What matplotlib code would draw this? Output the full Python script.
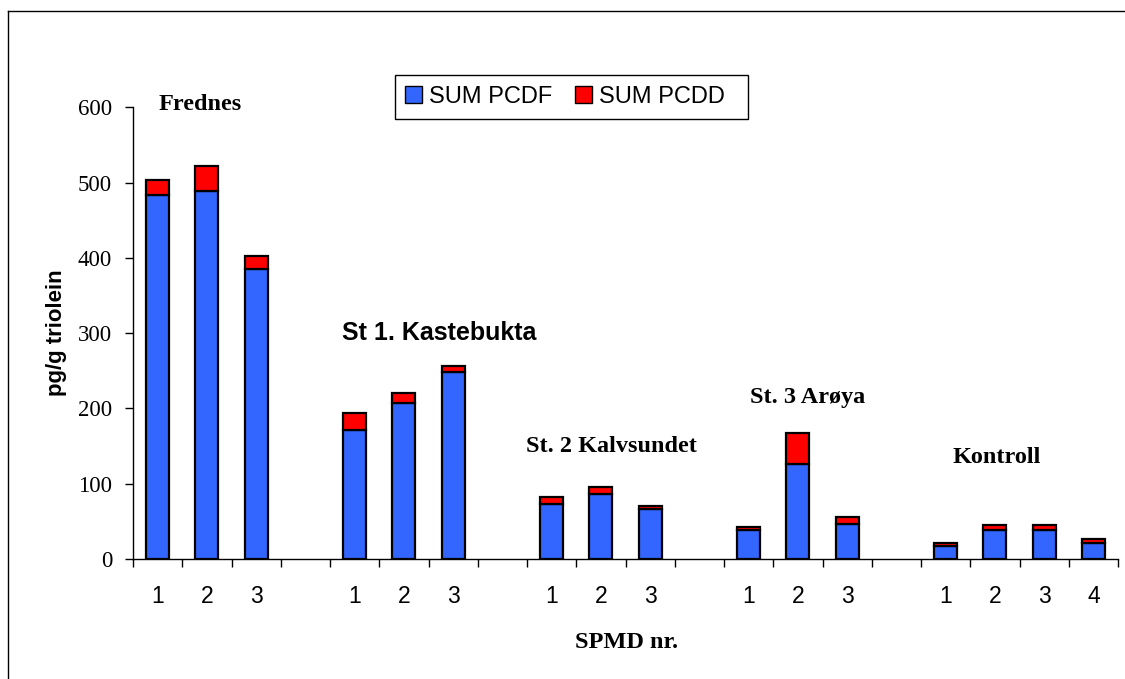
import matplotlib
matplotlib.use("Agg")
import matplotlib.pyplot as plt
from matplotlib.patches import Rectangle, Patch
from matplotlib.lines import Line2D
import numpy as np

# stations and SPMD numbers
stations = ["Frednes", "St 1. Kastebukta", "St. 2 Kalvsundet", "St. 3 Arøya", "Kontroll"]
spmd_labels = [["1", "2", "3"], ["1", "2", "3"], ["1", "2", "3"], ["1", "2", "3"], ["1", "2", "3", "4"]]

# pg/g triolein per SPMD
sum_pcdf = [[484, 489, 385], [172, 207, 249], [73, 87, 66], [38, 126, 47], [17, 39, 39, 21]]
sum_pcdd = [[20, 33, 17], [22, 13, 8], [10, 9, 5], [4, 42, 9], [4, 6, 6, 6]]

BLUE = "#3366FF"
RED = "#FF0000"
SERIF = "Liberation Serif"
SANS = "Liberation Sans"

W, H = 1125, 679
fig = plt.figure(figsize=(W / 100, H / 100), dpi=100)
ax = fig.add_axes([133 / W, 1 - 559 / H, (1118 - 133) / W, (559 - 107.3) / H])

# one empty slot between stations
xs, pcdf, pcdd, labels = [], [], [], []
slot = 0
for g in range(len(stations)):
    for lab, a, b in zip(spmd_labels[g], sum_pcdf[g], sum_pcdd[g]):
        xs.append(slot + 0.5)
        pcdf.append(a)
        pcdd.append(b)
        labels.append(lab)
        slot += 1
    if g < len(stations) - 1:
        slot += 1
n_slots = slot

xs = np.array(xs)
pcdf = np.array(pcdf)
pcdd = np.array(pcdd)

ax.bar(xs, pcdf, width=0.47, color=BLUE, edgecolor="black", linewidth=1.6)
ax.bar(xs, pcdd, bottom=pcdf, width=0.47, color=RED, edgecolor="black", linewidth=1.6)

ax.set_xlim(0, n_slots)
ax.set_ylim(0, 600)
ax.set_yticks(range(0, 601, 100))
ax.tick_params(axis="y", direction="out", length=6, width=1, pad=9, labelsize=16.5)
for t in ax.get_yticklabels():
    t.set_fontfamily(SERIF)

ax.set_xticks(np.arange(0, n_slots + 1))
ax.set_xticklabels([])
ax.set_xticks(xs, minor=True)
ax.set_xticklabels(labels, minor=True, fontfamily=SANS, fontsize=16.5)
ax.tick_params(axis="x", which="major", direction="out", length=6, width=1)
ax.tick_params(axis="x", which="minor", length=0, pad=19)

for side in ("top", "right"):
    ax.spines[side].set_visible(False)
for side in ("left", "bottom"):
    ax.spines[side].set_linewidth(1)
    ax.spines[side].set_color("black")

ax.set_ylabel("pg/g triolein", fontfamily=SANS, fontweight="bold", fontsize=16, labelpad=8)

# station names
name_pos = [(0.51, 604, SERIF), (4.24, 300, SANS), (7.98, 149, SERIF), (12.53, 214, SERIF), (16.65, 135, SERIF)]
for name, (x, y, fam) in zip(stations, name_pos):
    ax.text(x, y, name, ha="left", va="center", fontfamily=fam, fontweight="bold",
            fontsize=18 if fam == SANS else 17.5, clip_on=False)

fig.text(627 / W, 1 - 643 / H, "SPMD nr.", ha="center", va="center",
         fontfamily=SERIF, fontweight="bold", fontsize=17.5)

# legend box
fig.add_artist(Rectangle((395 / W, 1 - 119 / H), (748 - 395) / W, (119 - 75) / H,
                         transform=fig.transFigure, facecolor="white", edgecolor="black", linewidth=1))
handles = [Patch(facecolor=BLUE, edgecolor="black", linewidth=1),
           Patch(facecolor=RED, edgecolor="black", linewidth=1)]
fig.legend(handles, ["SUM PCDF", "SUM PCDD"], loc="center left", bbox_to_anchor=(405 / W, 1 - 97 / H),
           ncol=2, frameon=False, prop={"family": SANS, "size": 17},
           handlelength=0.7, handleheight=0.7, handletextpad=0.3, columnspacing=1.0, borderpad=0, borderaxespad=0)

# outer chart frame
fig.add_artist(Line2D([8 / W, 8 / W], [0, 1 - 11 / H], transform=fig.transFigure, color="black", linewidth=1))
fig.add_artist(Line2D([8 / W, 1], [1 - 11 / H, 1 - 11 / H], transform=fig.transFigure, color="black", linewidth=1))

fig.savefig("out.png", dpi=100)
